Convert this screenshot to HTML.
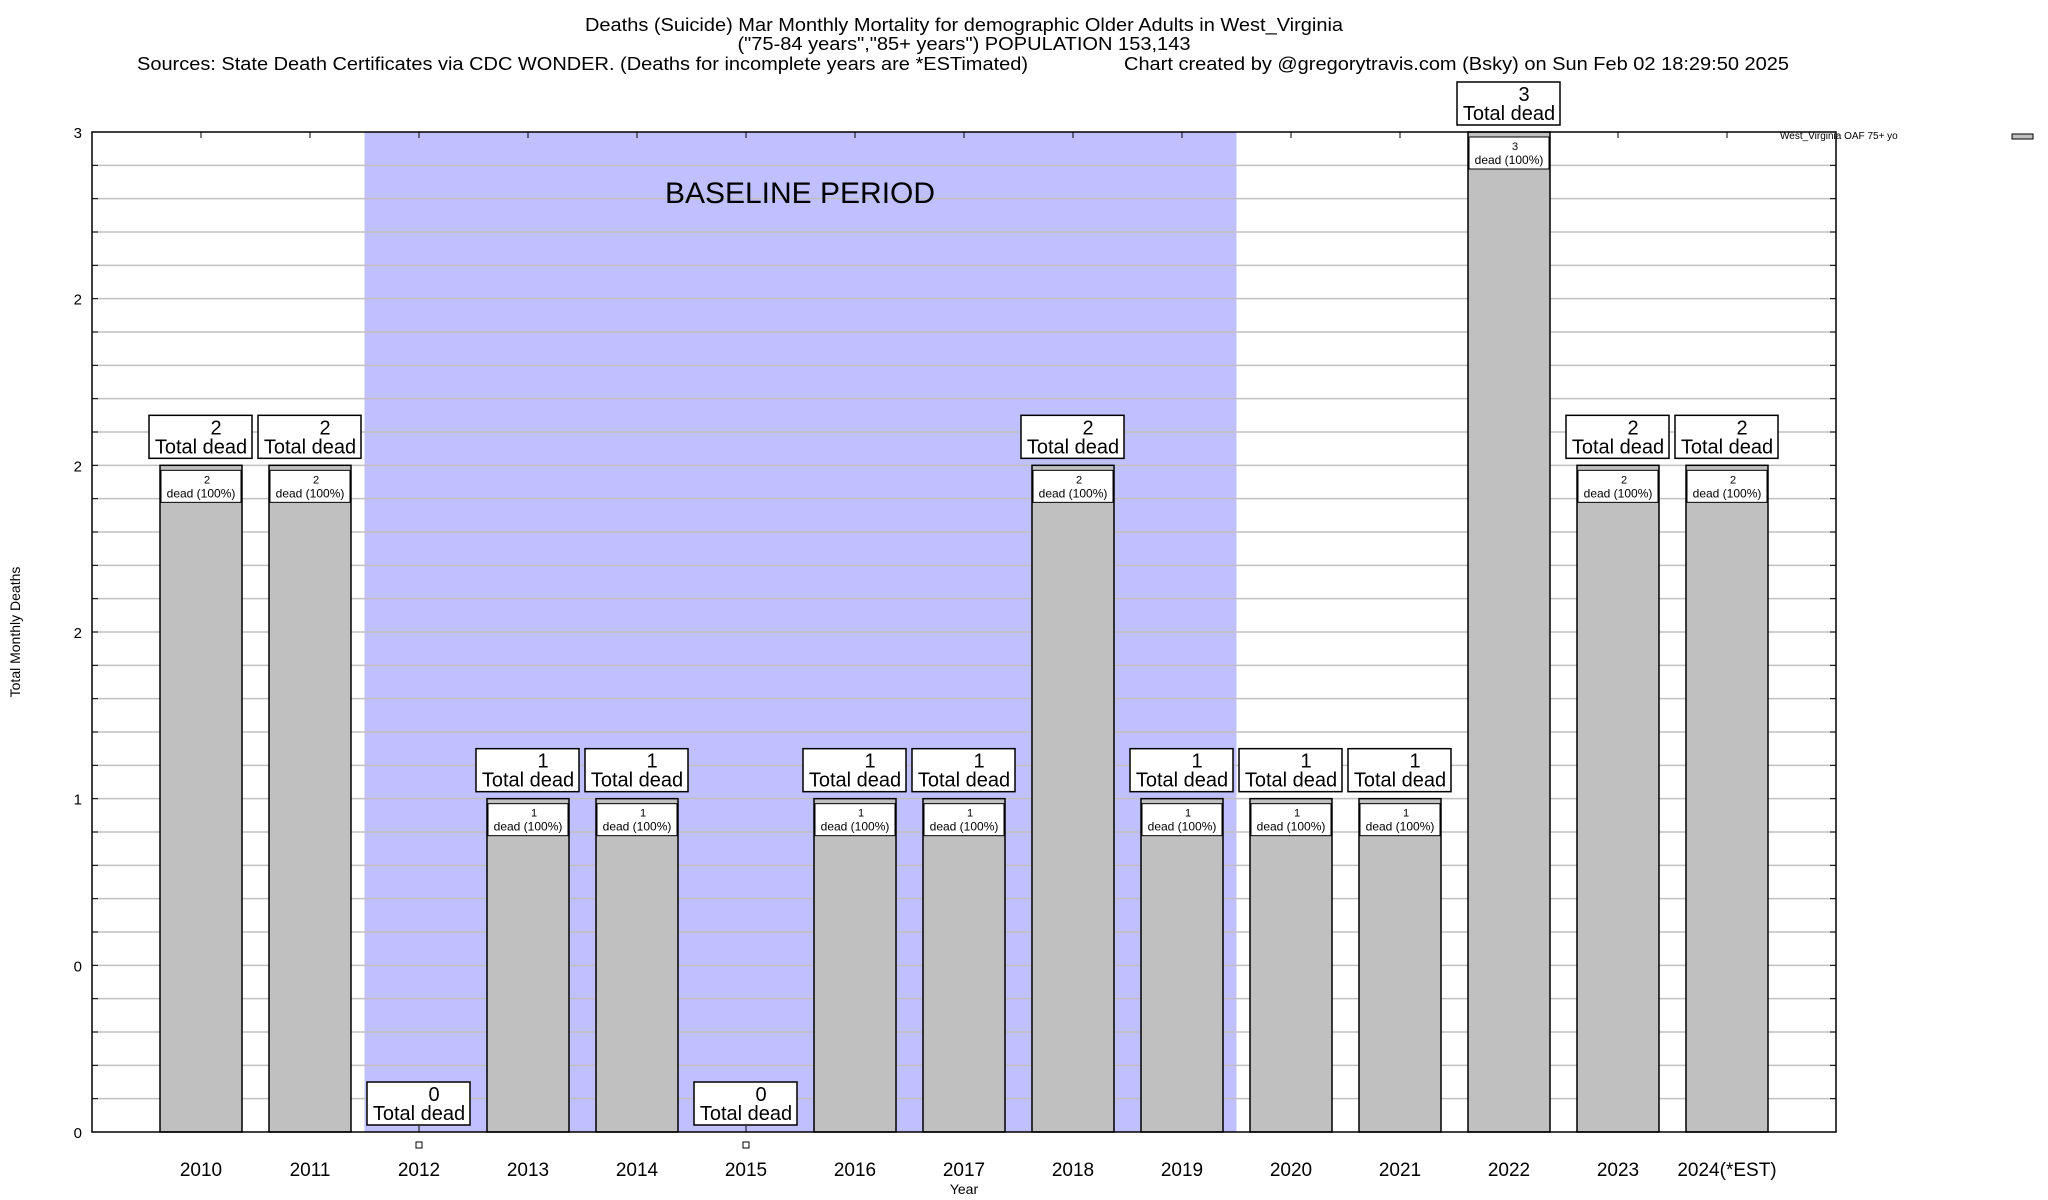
<!DOCTYPE html>
<html><head><meta charset="utf-8"><style>body{margin:0;background:#fff}svg{display:block;font-family:"Liberation Sans",Arial,sans-serif}</style></head>
<body>
<svg id="chart" width="2048" height="1200" viewBox="0 0 2048 1200" xmlns="http://www.w3.org/2000/svg">
<rect width="2048" height="1200" fill="#fff"/>
<g font-size="18" fill="#000">
<text x="964" y="31" text-anchor="middle" textLength="758" lengthAdjust="spacingAndGlyphs">Deaths (Suicide) Mar Monthly Mortality for demographic Older Adults in West_Virginia</text>
<text x="964" y="50" text-anchor="middle" textLength="453" lengthAdjust="spacingAndGlyphs">("75-84 years","85+ years") POPULATION 153,143</text>
<text x="137" y="70" textLength="891" lengthAdjust="spacingAndGlyphs">Sources: State Death Certificates via CDC WONDER. (Deaths for incomplete years are *ESTimated)</text>
<text x="1124" y="70" textLength="665" lengthAdjust="spacingAndGlyphs">Chart created by @gregorytravis.com (Bsky) on Sun Feb 02 18:29:50 2025</text>
</g>
<g id="plot"></g>
<g>
<text x="1780" y="139" font-size="10">West_Virginia OAF 75+ yo</text>
<rect x="2012" y="134" width="21" height="5" fill="#c0c0c0" stroke="#000" stroke-width="1"/>
</g>
<text x="20" y="632" font-size="14" text-anchor="middle" transform="rotate(-90 20 632)">Total Monthly Deaths</text>
<text x="964" y="1194" font-size="14" text-anchor="middle">Year</text>
</svg>
<script>
const categories = ["2010","2011","2012","2013","2014","2015","2016","2017","2018","2019","2020","2021","2022","2023","2024(*EST)"];
const deaths = [2,2,0,1,1,0,1,1,2,1,1,1,3,2,2];
const yTickValues = [0,0.5,1,1.5,2,2.5,3];
const yTickLabels = ["0","0","1","2","2","2","3"];
const baselineStart = 1.5, baselineEnd = 9.5;

const NS = "http://www.w3.org/2000/svg";
const L = 92, R = 1836, T = 132, B = 1132;
const xs = i => L + (R - L) * (i + 1) / 16;
const ys = v => B - (B - T) * v / 3;
const slot = (R - L) / 16;
const g = document.getElementById('plot');
function mk(tag, attrs, parent) {
  const e = document.createElementNS(NS, tag);
  for (const k in attrs) e.setAttribute(k, attrs[k]);
  (parent || g).appendChild(e);
  return e;
}
// baseline band
const band = mk('rect', {x: xs(baselineStart), y: T, width: xs(baselineEnd) - xs(baselineStart), height: B - T, fill: '#c0c0ff'});


// gridlines
for (let k = 1; k < 30; k++) {
  const y = ys(k / 10);
  const gl = mk('line', {x1: L, x2: R, y1: y, y2: y, stroke: '#c0c0c0', 'stroke-width': 1.5});
  
  
  mk('line', {x1: L, x2: L + 6, y1: y, y2: y, stroke: '#000'});
  mk('line', {x1: R - 6, x2: R, y1: y, y2: y, stroke: '#000'});
}
const bt = mk('text', {x: 800, y: 203, 'font-size': 30, 'text-anchor': 'middle'});


bt.textContent = 'BASELINE PERIOD';
// y tick labels
yTickValues.forEach((v, i) => {
  const t = mk('text', {x: 82, y: ys(v) + 6, 'font-size': 15, 'text-anchor': 'end'});
  
  
  t.textContent = yTickLabels[i];
});
// bars
categories.forEach((c, i) => {
  const cx = xs(i), v = deaths[i];
  mk('line', {x1: cx, x2: cx, y1: T, y2: T + 6, stroke: '#000'});
  mk('line', {x1: cx, x2: cx, y1: B, y2: B - 6, stroke: '#000'});
  const bl = cx - 41, bw = 82, top = ys(v);
  if (v > 0) {
    const bar = mk('rect', {x: bl, y: top, width: bw, height: B - top, fill: '#c0c0c0', stroke: '#000', 'stroke-width': 1.5});
    
    
    const ib = mk('rect', {x: bl + 1, y: top + 5, width: bw - 2, height: 32, fill: '#fff', stroke: '#000', 'stroke-width': 1});
    
    
    const t1 = mk('text', {x: cx + 6, y: top + 18, 'font-size': 11, 'text-anchor': 'middle'});
    t1.textContent = String(v);
    const t2 = mk('text', {x: cx, y: top + 32, 'font-size': 12, 'text-anchor': 'middle'});
    t2.textContent = 'dead (100%)';
  } else {
    const m = mk('rect', {x: cx - 3, y: 1142, width: 6, height: 6, fill: '#fff', stroke: '#000', 'stroke-width': 1});
    
    
  }
  const by = top - 7 - 43;
  const box = mk('rect', {x: cx - 52, y: by, width: 103, height: 43, fill: '#fff', stroke: '#000', 'stroke-width': 1.5});
  
  
  const n = mk('text', {x: cx + 15, y: by + 19, 'font-size': 20, 'text-anchor': 'middle'});
  n.textContent = String(v);
  const td = mk('text', {x: cx, y: by + 38, 'font-size': 20, 'text-anchor': 'middle'});
  td.textContent = 'Total dead';
  const xl = mk('text', {x: cx, y: 1176, 'font-size': 19, 'text-anchor': 'middle'});
  
  
  xl.textContent = c;
});
const frame = mk('rect', {x: L, y: T, width: R - L, height: B - T, fill: 'none', stroke: '#000', 'stroke-width': 1.5});


</script>
</body></html>
